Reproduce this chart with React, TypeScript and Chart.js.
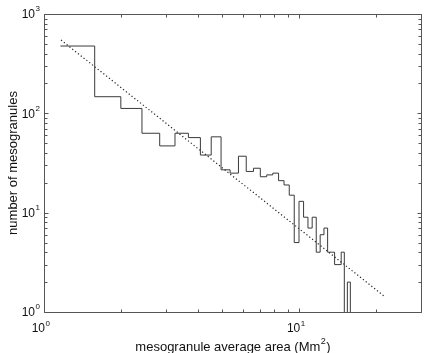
import React, { useEffect, useRef } from "react";
import { Chart, registerables } from "chart.js";

Chart.register(...registerables);

// Histogram bin edges (Mm^2) and counts per bin
const binEdges = [
  1.16, 1.58, 2.0, 2.42, 2.84, 3.26, 3.68, 4.1, 4.52, 4.94, 5.36, 5.78, 6.2,
  6.62, 7.04, 7.46, 7.88, 8.3, 8.72, 9.14, 9.56, 9.98, 10.4, 10.82, 11.24,
  11.66, 12.08, 12.5, 12.92, 13.34, 13.76, 14.18, 14.6, 15.02, 15.44, 15.86,
  16.28,
];
const binCounts = [
  476, 147, 112, 63, 47, 63, 57, 38, 58, 27, 25, 37, 26, 28, 23, 24, 25, 21,
  19, 15, 5, 13, 9, 7, 9, 4, 6, 7, 4, 4, 3, 3, 4, 0, 2, 0,
];

// Power-law fit (dotted line) end points
const fitX = [1.166, 21.4];
const fitY = [547, 1.46];

// Axes
const xMin = 1;
const xMax = 30;
const yMin = 1;
const yMax = 1000;
const xMajorTicks = [1, 10];
const xMajorExponents = ["0", "1"];
const xMinorTicks = [2, 3, 4, 5, 6, 7, 8, 9, 20, 30];
const yMajorTicks = [1, 10, 100, 1000];
const yMajorExponents = ["0", "1", "2", "3"];
const yMinorTicks = [
  2, 3, 4, 5, 6, 7, 8, 9, 20, 30, 40, 50, 60, 70, 80, 90, 200, 300, 400, 500,
  600, 700, 800, 900,
];
const xTitleMain = "mesogranule average area (Mm";
const xTitleExp = "2";
const xTitleEnd = ")";
const yTitle = "number of mesogranules";

const FONT = '"Liberation Sans", Arial, Helvetica, sans-serif';

const matlabAxes = {
  id: "matlabAxes",
  afterDatasetsDraw(chart: any) {
    const { ctx, chartArea: a, scales } = chart;
    const xs = scales.x;
    const ys = scales.y;
    const L = Math.round(a.left) + 0.5;
    const R = Math.round(a.right) + 0.5;
    const T = Math.round(a.top) + 0.5;
    const B = Math.round(a.bottom) + 0.5;
    ctx.save();
    ctx.strokeStyle = "#555";
    ctx.lineWidth = 1;
    ctx.beginPath();
    ctx.rect(L, T, R - L, B - T);
    ctx.stroke();

    const xTick = (v: number, len: number) => {
      const px = Math.round(xs.getPixelForValue(v)) + 0.5;
      ctx.moveTo(px, B);
      ctx.lineTo(px, B - len);
      ctx.moveTo(px, T);
      ctx.lineTo(px, T + len);
    };
    const yTick = (v: number, len: number) => {
      const py = Math.round(ys.getPixelForValue(v)) + 0.5;
      ctx.moveTo(L, py);
      ctx.lineTo(L + len, py);
      ctx.moveTo(R, py);
      ctx.lineTo(R - len, py);
    };
    ctx.beginPath();
    xMajorTicks.forEach((v) => xTick(v, 4));
    xMinorTicks.forEach((v) => xTick(v, 3));
    yMajorTicks.forEach((v) => yTick(v, 4));
    yMinorTicks.forEach((v) => yTick(v, 3));
    ctx.stroke();

    ctx.fillStyle = "#111";
    // x tick labels
    xMajorTicks.forEach((v, i) => {
      const px = xs.getPixelForValue(v);
      ctx.font = `12px ${FONT}`;
      ctx.textAlign = "right";
      ctx.textBaseline = "middle";
      ctx.fillText("10", px + 1, a.bottom + 17);
      ctx.font = `8px ${FONT}`;
      ctx.textAlign = "left";
      ctx.fillText(xMajorExponents[i], px + 1.5, a.bottom + 12);
    });
    // y tick labels
    yMajorTicks.forEach((v, i) => {
      const py = ys.getPixelForValue(v);
      ctx.font = `12px ${FONT}`;
      ctx.textAlign = "right";
      ctx.textBaseline = "middle";
      ctx.fillText("10", a.left - 9, py + 1);
      ctx.font = `8px ${FONT}`;
      ctx.textAlign = "left";
      ctx.fillText(yMajorExponents[i], a.left - 8.5, py - 5);
    });

    // x title
    ctx.font = `13px ${FONT}`;
    const wMain = ctx.measureText(xTitleMain).width;
    const wEnd = ctx.measureText(xTitleEnd).width;
    ctx.font = `9px ${FONT}`;
    const wExp = ctx.measureText(xTitleExp).width;
    const total = wMain + wExp + wEnd;
    const cx = (a.left + a.right) / 2;
    const x0 = cx - total / 2;
    const ty = a.bottom + 35;
    ctx.textAlign = "left";
    ctx.textBaseline = "middle";
    ctx.font = `13px ${FONT}`;
    ctx.fillText(xTitleMain, x0, ty);
    ctx.font = `9px ${FONT}`;
    ctx.fillText(xTitleExp, x0 + wMain + 0.5, ty - 5);
    ctx.font = `13px ${FONT}`;
    ctx.fillText(xTitleEnd, x0 + wMain + wExp + 1, ty);

    // y title
    ctx.save();
    ctx.translate(13, (a.top + a.bottom) / 2);
    ctx.rotate(-Math.PI / 2);
    ctx.textAlign = "center";
    ctx.textBaseline = "middle";
    ctx.font = `13px ${FONT}`;
    ctx.fillText(yTitle, 0, 0);
    ctx.restore();

    ctx.restore();
  },
};

export default function App() {
  const canvasRef = useRef<HTMLCanvasElement | null>(null);

  useEffect(() => {
    const canvas = canvasRef.current;
    if (!canvas) return;
    const histData = binEdges.map((e, i) => {
      const c = i < binCounts.length ? binCounts[i] : binCounts[binCounts.length - 1];
      return { x: e, y: c > 0 ? c : 0.05 };
    });
    const fitData = fitX.map((x, i) => ({ x, y: fitY[i] }));

    const chart = new Chart(canvas, {
      type: "line",
      data: {
        datasets: [
          {
            data: histData,
            stepped: "before",
            borderColor: "#3a3a3a",
            borderWidth: 1,
            pointRadius: 0,
            fill: false,
          },
          {
            data: fitData,
            borderColor: "#222",
            borderWidth: 1.2,
            borderDash: [1.2, 2.4],
            pointRadius: 0,
            fill: false,
          },
        ],
      },
      options: {
        animation: false,
        responsive: false,
        devicePixelRatio: 1,
        parsing: true,
        layout: { padding: { left: 44, right: 4, top: 14, bottom: 41 } },
        plugins: {
          legend: { display: false },
          tooltip: { enabled: false },
        },
        scales: {
          x: { type: "logarithmic", min: xMin, max: xMax, display: false },
          y: { type: "logarithmic", min: yMin, max: yMax, display: false },
        },
      },
      plugins: [matlabAxes],
    });
    return () => chart.destroy();
  }, []);

  return (
    <div style={{ position: "absolute", left: 0, top: 0, width: 425, height: 353, background: "#fff" }}>
      <canvas ref={canvasRef} width={425} height={353} style={{ display: "block" }} />
    </div>
  );
}
